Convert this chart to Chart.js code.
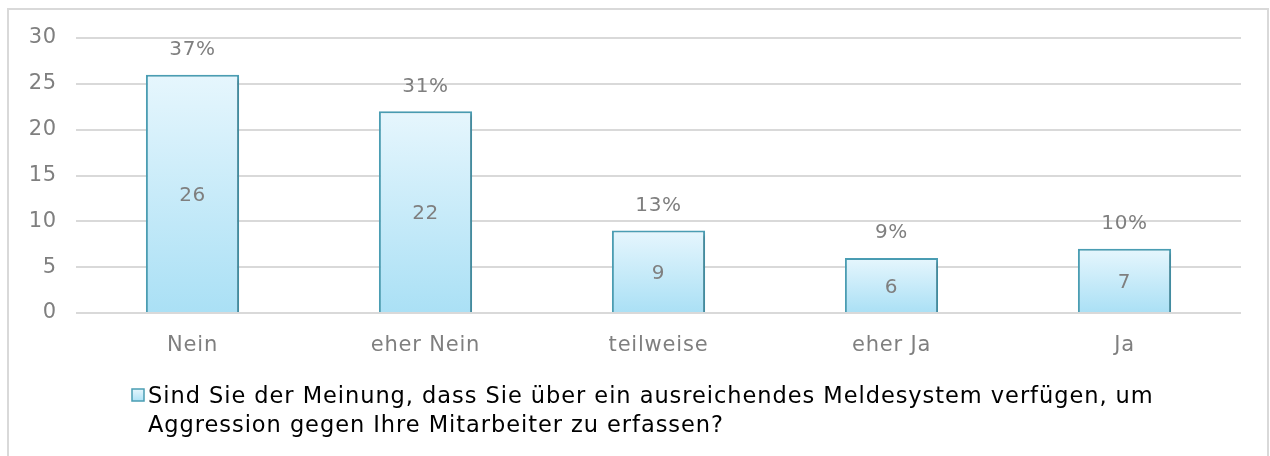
<!DOCTYPE html>
<html>
<head>
<meta charset="utf-8">
<script src="https://cdn.jsdelivr.net/npm/chart.js@4/dist/chart.umd.min.js"></script>
<style>
  html, body { margin: 0; padding: 0; background: #fff; }
  #wrap { position: relative; width: 1270px; height: 456px; overflow: hidden; }
  #frame { position: absolute; left: 7px; top: 8px; width: 1262px; height: 460px; border: 2px solid #d9d9d9; box-sizing: border-box; }
  canvas { position: absolute; left: 0; top: 0; }
</style>
</head>
<body>
<div id="wrap">
  <div id="frame"></div>
  <canvas id="c" width="1270" height="456"></canvas>
</div>
<script>
const categories = ['Nein', 'eher Nein', 'teilweise', 'eher Ja', 'Ja'];
const counts = [26, 22, 9, 6, 7];
const percentLabels = ['37%', '31%', '13%', '9%', '10%'];
const yTicks = [0, 5, 10, 15, 20, 25, 30];
const legendLines = ['Sind Sie der Meinung, dass Sie über ein ausreichendes Meldesystem verfügen, um', 'Aggression gegen Ihre Mitarbeiter zu erfassen?'];

const FONT = '"DejaVu Sans", Verdana, sans-serif';

const spacing = {
  id: 'spacing',
  beforeDraw(chart) { chart.ctx.letterSpacing = '0.8px'; }
};

const barShadow = {
  id: 'barShadow',
  beforeDatasetDraw(chart) {
    const ctx = chart.ctx;
    ctx.save();
    ctx.shadowColor = 'rgba(0,0,0,0.22)';
    ctx.shadowBlur = 3;
    ctx.shadowOffsetX = 2;
    ctx.shadowOffsetY = 2;
  },
  afterDatasetDraw(chart) {
    chart.ctx.restore();
  }
};

const labelsPlugin = {
  id: 'labelsPlugin',
  afterDatasetsDraw(chart) {
    const ctx = chart.ctx;
    const meta = chart.getDatasetMeta(0);
    const y0 = chart.scales.y.getPixelForValue(0);
    ctx.save();
    ctx.letterSpacing = '0.6px';
    ctx.fillStyle = '#7f7f7f';
    ctx.font = '20px ' + FONT;
    ctx.textAlign = 'center';
    ctx.textBaseline = 'middle';
    meta.data.forEach((bar, i) => {
      ctx.fillText(percentLabels[i], bar.x, bar.y - 25);
      ctx.fillText(String(counts[i]), bar.x, (bar.y + y0) / 2 + 2);
    });
    ctx.restore();
  }
};

const customLegend = {
  id: 'customLegend',
  afterDraw(chart) {
    const ctx = chart.ctx;
    ctx.save();
    const bx = 132, by = 389, bs = 12;
    const g = ctx.createLinearGradient(0, by, 0, by + bs);
    g.addColorStop(0, '#e6f6fd');
    g.addColorStop(1, '#aee2f6');
    ctx.fillStyle = g;
    ctx.fillRect(bx, by, bs, bs);
    ctx.strokeStyle = '#4a9db3';
    ctx.lineWidth = 1.5;
    ctx.strokeRect(bx, by, bs, bs);
    ctx.letterSpacing = '0.95px';
    ctx.fillStyle = '#000';
    ctx.font = '22.5px ' + FONT;
    ctx.textAlign = 'left';
    ctx.textBaseline = 'middle';
    legendLines.forEach((t, i) => ctx.fillText(t, 148, 397 + i * 29));
    ctx.restore();
  }
};

new Chart(document.getElementById('c'), {
  type: 'bar',
  data: {
    labels: categories,
    datasets: [{
      label: legendLines.join(' '),
      data: counts,
      backgroundColor(context) {
        const chart = context.chart;
        const area = chart.chartArea;
        if (!area) return '#c5ebf9';
        const ys = chart.scales.y;
        const top = ys.getPixelForValue(context.raw);
        const bot = ys.getPixelForValue(0);
        const g = chart.ctx.createLinearGradient(0, top, 0, bot);
        g.addColorStop(0, '#e6f6fd');
        g.addColorStop(1, '#aae0f5');
        return g;
      },
      borderColor: '#4a9db3',
      borderWidth: 2,
      borderSkipped: 'bottom',
      barPercentage: 0.4,
      categoryPercentage: 1.0
    }]
  },
  options: {
    responsive: false,
    animation: false,
    events: [],
    layout: { padding: { top: 38, right: 29, left: 0, bottom: 0 } },
    plugins: {
      legend: { display: false },
      tooltip: { enabled: false }
    },
    scales: {
      x: {
        grid: { display: false, drawTicks: false },
        border: { display: false },
        ticks: { color: '#7f7f7f', font: { family: FONT, size: 21 }, padding: 20 },
        afterFit(scale) { scale.height = 143; }
      },
      y: {
        min: 0,
        max: 30,
        afterBuildTicks(scale) { scale.ticks = yTicks.map(v => ({ value: v })); },
        grid: { color: '#d9d9d9', lineWidth: 2, drawTicks: false },
        border: { display: false },
        ticks: { color: '#7f7f7f', font: { family: FONT, size: 21 }, padding: 19 },
        afterFit(scale) { scale.width = 76; }
      }
    }
  },
  plugins: [spacing, barShadow, labelsPlugin, customLegend]
});
</script>
</body>
</html>
